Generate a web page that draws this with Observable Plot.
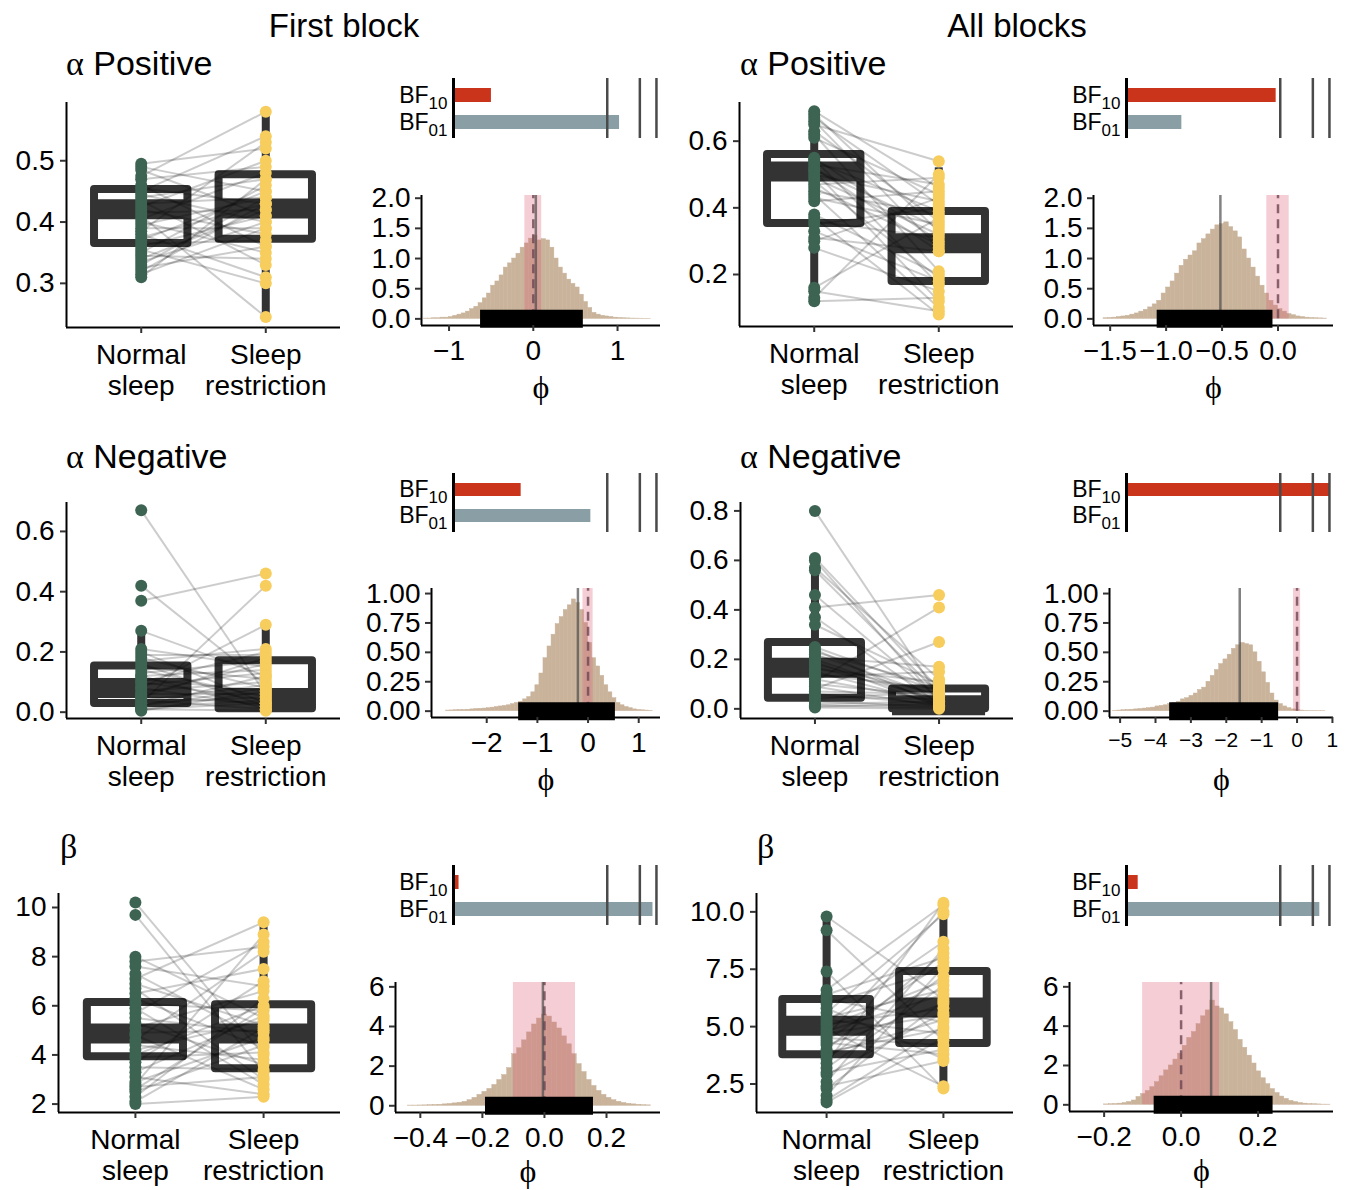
<!DOCTYPE html>
<html><head><meta charset="utf-8">
<script src="https://cdn.jsdelivr.net/npm/d3@7"></script>
<script src="https://cdn.jsdelivr.net/npm/@observablehq/plot@0.6"></script>
<style>
body{margin:0;background:#fff;}
#page{position:relative;width:1347px;height:1190px;overflow:hidden;background:#fff;}
#page svg{position:absolute;overflow:visible;}
</style></head><body><div id="page"></div>
<script>
// ---------------- DATA ----------------
const columnTitles = ["First block", "All blocks"];
const rowGreek = ["α", "α", "α", "α", "β", "β"];
const rowNames = ["Positive", "Positive", "Negative", "Negative", "", ""];
const groupTickLabels = ["Normal\nsleep", "Sleep\nrestriction"];
const bfNames = ["BF10", "BF01"];
const bfThresholds = [0.75, 0.909, 0.99];
const rope = [-0.1, 0.1];
const nullValue = 0;
const phiLabel = "ϕ";

// paired subject values (panel order: fbPos, abPos, fbNeg, abNeg, fbBeta, abBeta)
const fbPosNormal = [0.495,0.49,0.485,0.475,0.47,0.46,0.455,0.45,0.445,0.44,0.435,0.43,0.425,0.42,0.415,0.41,0.405,0.40,0.395,0.39,0.385,0.38,0.375,0.37,0.365,0.36,0.355,0.35,0.345,0.34,0.335,0.33,0.325,0.32,0.315,0.31];
const fbPosRestr  = [0.52,0.45,0.41,0.58,0.49,0.36,0.43,0.54,0.40,0.47,0.33,0.44,0.50,0.38,0.42,0.245,0.48,0.35,0.44,0.39,0.53,0.31,0.43,0.45,0.37,0.41,0.30,0.46,0.34,0.42,0.40,0.44,0.36,0.43,0.39,0.47];
const abPosNormal = [0.69,0.68,0.67,0.66,0.65,0.63,0.62,0.61,0.55,0.545,0.54,0.53,0.52,0.515,0.51,0.50,0.49,0.48,0.47,0.46,0.45,0.44,0.43,0.42,0.38,0.37,0.36,0.35,0.33,0.31,0.30,0.28,0.16,0.15,0.13,0.12];
const abPosRestr  = [0.46,0.33,0.41,0.28,0.54,0.36,0.21,0.44,0.30,0.17,0.39,0.47,0.27,0.34,0.12,0.42,0.32,0.19,0.49,0.29,0.38,0.10,0.35,0.45,0.20,0.08,0.31,0.40,0.18,0.27,0.43,0.15,0.37,0.09,0.50,0.13];
const fbNegNormal = [0.67,0.42,0.37,0.27,0.21,0.20,0.19,0.18,0.17,0.16,0.15,0.14,0.13,0.12,0.12,0.11,0.10,0.10,0.09,0.08,0.08,0.07,0.06,0.06,0.05,0.05,0.04,0.04,0.03,0.03,0.02,0.02,0.015,0.01,0.01,0.005];
const fbNegRestr  = [0.06,0.09,0.46,0.12,0.15,0.03,0.19,0.08,0.21,0.02,0.11,0.05,0.17,0.14,0.01,0.07,0.04,0.20,0.13,0.29,0.02,0.10,0.06,0.16,0.03,0.18,0.09,0.01,0.42,0.05,0.08,0.12,0.04,0.03,0.005,0.07];
const abNegNormal = [0.80,0.61,0.60,0.57,0.56,0.46,0.41,0.37,0.34,0.25,0.24,0.23,0.22,0.21,0.20,0.19,0.18,0.17,0.16,0.15,0.14,0.13,0.12,0.11,0.10,0.09,0.08,0.07,0.06,0.05,0.04,0.03,0.02,0.015,0.01,0.005];
const abNegRestr  = [0.05,0.08,0.03,0.12,0.06,0.04,0.46,0.02,0.10,0.07,0.015,0.09,0.05,0.17,0.03,0.01,0.06,0.04,0.11,0.02,0.08,0.15,0.03,0.41,0.05,0.01,0.27,0.06,0.02,0.04,0.07,0.01,0.03,0.005,0.02,0.0];
const fbBetaNormal = [10.2,9.7,8.0,7.8,7.6,7.3,7.1,6.9,6.7,6.5,6.3,6.1,5.9,5.7,5.5,5.3,5.1,4.9,4.8,4.6,4.4,4.2,4.0,3.9,3.7,3.5,3.3,3.1,2.9,2.8,2.7,2.6,2.5,2.3,2.1,2.0];
const fbBetaRestr  = [4.0,3.3,5.5,8.4,6.8,4.6,9.4,5.2,3.0,7.5,4.3,5.8,2.8,8.6,4.9,3.6,6.6,5.0,2.6,8.2,3.8,5.4,6.0,4.1,7.0,3.4,5.6,2.4,4.7,8.9,3.1,5.9,4.4,6.3,5.1,2.3];
const abBetaNormal = [9.8,9.2,7.4,6.6,6.4,6.2,6.0,5.8,5.6,5.4,5.3,5.2,5.1,5.0,4.9,4.8,4.7,4.6,4.5,4.4,4.3,4.2,4.0,3.9,3.8,3.6,3.4,3.2,3.0,2.9,2.6,2.4,2.3,2.0,1.8,1.7];
const abBetaRestr  = [6.2,4.4,2.3,10.3,8.0,5.2,7.5,3.6,9.9,6.6,4.7,8.7,5.8,7.0,2.4,6.4,5.5,10.0,4.2,7.8,3.8,6.0,8.2,4.9,5.3,7.2,10.4,6.8,4.0,5.6,8.4,3.5,6.1,7.6,5.0,4.5];

// box statistics [lower whisker, Q1, median, Q3, upper whisker]
const fbPosBoxNormal = [0.31, 0.365, 0.421, 0.453, 0.495];
const fbPosBoxRestr  = [0.245, 0.372, 0.422, 0.477, 0.58];
const abPosBoxNormal = [0.12, 0.353, 0.509, 0.56, 0.69];
const abPosBoxRestr  = [0.134, 0.179, 0.294, 0.389, 0.52];
const fbNegBoxNormal = [0.005, 0.029, 0.08, 0.153, 0.26];
const fbNegBoxRestr  = [0.0, 0.011, 0.047, 0.171, 0.29];
const abNegBoxNormal = [0.0, 0.043, 0.166, 0.268, 0.57];
const abNegBoxRestr  = [0.0, 0.0, 0.015, 0.08, 0.15];
const fbBetaBoxNormal = [2.0, 3.93, 4.87, 6.13, 8.0];
const fbBetaBoxRestr  = [2.3, 3.44, 4.87, 6.04, 9.4];
const abBetaBoxNormal = [1.7, 3.78, 5.04, 6.18, 9.8];
const abBetaBoxRestr  = [2.3, 4.27, 5.83, 7.40, 10.3];

// Bayes factor bars, as posterior-probability lengths
const bf10 = [0.185, 0.73, 0.33, 0.993, 0.027, 0.057];
const bf01 = [0.81, 0.27, 0.67, 0.004, 0.973, 0.943];

// posterior histograms of phi (density per bin)
const fbPosHist = [0.005,0.005,0.01,0.01,0.02,0.02,0.03,0.05,0.07,0.09,0.12,0.16,0.2,0.26,0.34,0.42,0.55,0.62,0.72,0.85,0.92,1.0,1.08,1.18,1.25,1.33,1.38,1.3,1.32,1.3,1.18,1.0,0.85,0.75,0.65,0.58,0.52,0.4,0.28,0.18,0.1,0.07,0.05,0.04,0.03,0.02,0.015,0.01,0.008,0.005,0.004,0.003,0.002,0.002];
const abPosHist = [0.01,0.015,0.02,0.03,0.04,0.05,0.07,0.09,0.12,0.15,0.19,0.24,0.3,0.42,0.52,0.62,0.75,0.88,0.98,1.05,1.12,1.25,1.32,1.4,1.48,1.55,1.57,1.6,1.52,1.45,1.35,1.15,1.0,0.85,0.7,0.55,0.42,0.3,0.22,0.16,0.12,0.08,0.06,0.04,0.03,0.02,0.015,0.01,0.008,0.005];
const fbNegHist = [0.005,0.006,0.008,0.01,0.01,0.012,0.015,0.018,0.02,0.022,0.025,0.03,0.035,0.04,0.045,0.05,0.06,0.07,0.08,0.1,0.12,0.16,0.22,0.32,0.45,0.55,0.65,0.74,0.8,0.86,0.9,0.95,0.92,0.86,0.75,0.58,0.45,0.38,0.3,0.22,0.16,0.11,0.07,0.05,0.035,0.025,0.015,0.01,0.007,0.005,0.003];
const abNegHist = [0.003,0.005,0.008,0.01,0.012,0.015,0.018,0.022,0.025,0.03,0.04,0.045,0.05,0.06,0.07,0.08,0.1,0.11,0.13,0.15,0.18,0.2,0.25,0.3,0.35,0.4,0.44,0.48,0.53,0.56,0.58,0.57,0.56,0.5,0.42,0.33,0.24,0.15,0.09,0.06,0.04,0.025,0.015,0.008,0.005,0.003,0.002,0.002,0.001,0.001];
const fbBetaHist = [0.01,0.01,0.015,0.02,0.03,0.04,0.05,0.07,0.09,0.12,0.15,0.2,0.28,0.4,0.55,0.7,0.85,1.05,1.3,1.55,1.9,2.6,2.9,3.3,3.7,4.1,4.4,4.6,4.5,4.2,3.9,3.5,3.1,2.6,2.1,1.7,1.3,1.0,0.75,0.55,0.4,0.28,0.2,0.14,0.1,0.07,0.05,0.03,0.02];
const abBetaHist = [0.02,0.03,0.04,0.06,0.09,0.14,0.22,0.4,0.55,0.7,0.9,1.15,1.45,1.75,2.0,2.3,2.6,3.0,3.4,3.7,4.1,4.5,4.8,5.3,5.0,4.9,4.6,4.2,3.8,3.3,2.9,2.5,2.1,1.7,1.35,1.05,0.8,0.6,0.42,0.3,0.2,0.14,0.09,0.06,0.04,0.03,0.02,0.01,0.008];
const histStarts = [-1.3, -1.56, -2.8, -5.2, -0.44, -0.2];
const histSteps = [0.05, 0.04, 0.08, 0.12, 0.016, 0.012];
const hdiIntervals = [[-0.626, 0.594], [-1.08, -0.045], [-1.37, 0.54], [-3.6, -0.52], [-0.19, 0.158], [-0.07, 0.239]];
const posteriorMeans = [0.03, -0.515, -0.2, -1.62, -0.005, 0.078];

// axis ticks
const boxYTicks = [[0.3,0.4,0.5],[0.2,0.4,0.6],[0,0.2,0.4,0.6],[0,0.2,0.4,0.6,0.8],[2,4,6,8,10],[2.5,5,7.5,10]];
const boxYFormats = [".1f",".1f",".1f",".1f","d",".1f"];
const histXTicks = [[-1,0,1],[-1.5,-1,-0.5,0],[-2,-1,0,1],[-5,-4,-3,-2,-1,0,1],[-0.4,-0.2,0,0.2],[-0.2,0,0.2]];
const histXFormats = ["d",".1f","d","d",".1f",".1f"];
const histYTicks = [[0,0.5,1,1.5,2],[0,0.5,1,1.5,2],[0,0.25,0.5,0.75,1],[0,0.25,0.5,0.75,1],[0,2,4,6],[0,2,4,6]];
const histYFormats = [".1f",".1f",".2f",".2f","d","d"];

// ---------------- LAYOUT ----------------
const SANS = "'Liberation Sans', Arial, Helvetica, sans-serif";
const SERIF = "'Liberation Serif', 'DejaVu Serif', serif";
const colNormal = "#3d6452", colRestr = "#f7cd5e", BOX_COL = "#333333";
const HIST_COL = "#c9b39b", ROPE_COL = "#dc5a74", BF10_COL = "#c9341a", BF01_COL = "#8a9ea5";
const BOX_HALF = 0.375;
const DOT_R = 6;
const boxXDomain = [0.4, 2.6];

const boxFrames = [{l:66,r:340,t:102,b:327},{l:739,r:1013,t:102,b:326},{l:66,r:340,t:502,b:718},{l:740,r:1013,t:502,b:718},{l:58,r:340,t:893,b:1112},{l:756,r:1013,t:893,b:1112}];
const boxYDomains = [[0.228,0.595],[0.044,0.716],[-0.021,0.696],[-0.039,0.834],[1.657,10.57],[1.259,10.80]];
const histFrames = [{l:421,r:660,t:195,b:325},{l:1093,r:1333,t:195,b:325},{l:431,r:660,t:588,b:717},{l:1109,r:1333,t:588,b:717},{l:395,r:660,t:982,b:1112},{l:1069,r:1333,t:982,b:1111}];
const histXDomains = [[-1.327,1.51],[-1.649,0.496],[-3.09,1.43],[-5.3,1.03],[-0.48,0.374],[-0.29,0.396]];
const histYDomains = [[-0.11,2.045],[-0.11,2.045],[-0.054,1.043],[-0.054,1.043],[-0.34,6.22],[-0.34,6.22]];
const histXFont = [28,27,28,21,28,28];
const phiOffset = [72,72,72,72,69,69];
const bfFrames = [{l:452.7,r:657.7,t:78,b:138},{l:1125.7,r:1330.7,t:78,b:138},{l:452.7,r:657.7,t:473,b:532},{l:1125.7,r:1330.7,t:473,b:532},{l:452.7,r:657.7,t:865,b:925},{l:1125.7,r:1330.7,t:865,b:926}];
const rowTitlePos = [[66,75],[740,75],[66,468],[740,468],[60,858],[757,858]];
const colTitlePos = [[344,37],[1017,37]];

const baseStyle = {fontFamily: SANS, fontSize: "28px", color: "black", background: "transparent", overflow: "visible"};
const page = document.getElementById("page");
function put(svg, left, top) {
  svg.style.position = "absolute";
  svg.style.left = left + "px";
  svg.style.top = top + "px";
  page.appendChild(svg);
}

function boxPanel(f, yDomain, yTicks, yFmt, normal, restr, boxN, boxR) {
  const m = {l: 70, r: 10, t: 12, b: 85};
  const boxes = [boxN, boxR].map((s, i) => ({x: i + 1, lo: s[0], q1: s[1], med: s[2], q3: s[3], hi: s[4]}));
  const pairs = normal.map((v, i) => ({n: v, s: restr[i]}));
  const svg = Plot.plot({
    width: f.r - f.l + m.l + m.r, height: f.b - f.t + m.t + m.b,
    marginLeft: m.l, marginRight: m.r, marginTop: m.t, marginBottom: m.b,
    style: baseStyle,
    x: {type: "linear", domain: boxXDomain, axis: null},
    y: {type: "linear", domain: yDomain, axis: null},
    marks: [
      Plot.ruleX(boxes, {x: "x", y1: "lo", y2: "q1", stroke: BOX_COL, strokeWidth: 8}),
      Plot.ruleX(boxes, {x: "x", y1: "q3", y2: "hi", stroke: BOX_COL, strokeWidth: 8}),
      Plot.rect(boxes, {x1: d => d.x - BOX_HALF, x2: d => d.x + BOX_HALF, y1: "q1", y2: "q3", fill: "none", stroke: BOX_COL, strokeWidth: 8, strokeLinejoin: "round"}),
      Plot.ruleY(boxes, {y: "med", x1: d => d.x - BOX_HALF, x2: d => d.x + BOX_HALF, stroke: BOX_COL, strokeWidth: 20}),
      Plot.link(pairs, {x1: () => 1, x2: () => 2, y1: "n", y2: "s", stroke: "black", strokeOpacity: 0.2, strokeWidth: 2}),
      Plot.dot(normal, {x: () => 1, y: d => d, r: DOT_R, fill: colNormal}),
      Plot.dot(restr, {x: () => 2, y: d => d, r: DOT_R, fill: colRestr}),
      Plot.ruleX([boxXDomain[0]], {stroke: "black", strokeWidth: 2}),
      Plot.ruleY([yDomain[0]], {stroke: "black", strokeWidth: 2}),
      Plot.axisY({ticks: yTicks, tickFormat: d3.format(yFmt), tickSize: 6, tickPadding: 6, fontSize: 28, stroke: "#333", strokeWidth: 2, label: null}),
      Plot.axisX({ticks: [1, 2], tickFormat: i => groupTickLabels[i - 1], tickSize: 6, tickPadding: 9, fontSize: 28, lineHeight: 1.1, stroke: "#333", strokeWidth: 2, label: null})
    ]
  });
  put(svg, f.l - m.l, f.t - m.t);
}

function histPanel(f, xDomain, yDomain, xTicks, xFmt, yTicks, yFmt, heights, start, step, hdi, mean, xFont, phiDy) {
  const m = {l: 75, r: 10, t: 12, b: 100};
  const bins = heights.map((h, i) => ({x1: start + i * step, x2: start + (i + 1) * step, h}));
  const yTop = yDomain[1];
  const svg = Plot.plot({
    width: f.r - f.l + m.l + m.r, height: f.b - f.t + m.t + m.b,
    marginLeft: m.l, marginRight: m.r, marginTop: m.t, marginBottom: m.b,
    style: baseStyle,
    x: {type: "linear", domain: xDomain, axis: null},
    y: {type: "linear", domain: yDomain, axis: null},
    marks: [
      Plot.rect(bins, {x1: "x1", x2: "x2", y1: () => 0, y2: "h", fill: HIST_COL, stroke: HIST_COL, strokeWidth: 0.5}),
      Plot.rect([rope], {x1: d => d[0], x2: d => d[1], y1: () => 0, y2: () => yTop, fill: ROPE_COL, fillOpacity: 0.3}),
      Plot.ruleX([nullValue], {x: d => d, y1: () => 0, y2: () => yTop, stroke: "#6d4652", strokeOpacity: 0.8, strokeWidth: 2.5, strokeDasharray: "9,6"}),
      Plot.ruleX([mean], {x: d => d, y1: () => 0, y2: () => yTop, stroke: "#4d4d4d", strokeOpacity: 0.7, strokeWidth: 2.5}),
      Plot.ruleX([xDomain[0]], {stroke: "black", strokeWidth: 2}),
      Plot.ruleY([yDomain[0]], {stroke: "black", strokeWidth: 2}),
      Plot.ruleY([hdi], {y: () => 0, x1: d => d[0], x2: d => d[1], stroke: "black", strokeWidth: 18}),
      Plot.axisY({ticks: yTicks, tickFormat: d3.format(yFmt), tickSize: 6, tickPadding: 5, fontSize: 28, stroke: "#333", strokeWidth: 2, label: null}),
      Plot.axisX({ticks: xTicks, tickFormat: d3.format(xFmt), tickSize: 6, tickPadding: 9, fontSize: xFont, stroke: "#333", strokeWidth: 2, label: null}),
      Plot.text([phiLabel], {text: d => d, frameAnchor: "bottom", dy: phiDy, fontSize: 32, fontFamily: SERIF})
    ]
  });
  put(svg, f.l - m.l, f.t - m.t);
}

function bfPanel(f, p10, p01) {
  const m = {l: 70, r: 10, t: 4, b: 4};
  const svg = Plot.plot({
    width: f.r - f.l + m.l + m.r, height: f.b - f.t + m.t + m.b,
    marginLeft: m.l, marginRight: m.r, marginTop: m.t, marginBottom: m.b,
    style: baseStyle,
    x: {type: "linear", domain: [0, 1], axis: null},
    y: {type: "band", domain: bfNames, paddingInner: 0.5, paddingOuter: 0.35, axis: null},
    marks: [
      Plot.barX([{name: bfNames[0], p: p10}], {x: "p", y: "name", fill: BF10_COL}),
      Plot.barX([{name: bfNames[1], p: p01}], {x: "p", y: "name", fill: BF01_COL}),
      Plot.ruleX(bfThresholds, {stroke: "#4a4a4a", strokeWidth: 2.5}),
      Plot.ruleX([0], {stroke: "black", strokeWidth: 3}),
      Plot.axisY({tickSize: 0, tickPadding: 6, fontSize: 23, label: null})
    ]
  });
  d3.select(svg).selectAll("text").each(function () {
    const t = d3.select(this), s = t.text();
    if (!s.startsWith("BF")) return;
    t.text(null);
    t.append("tspan").text(s.slice(0, 2));
    t.append("tspan").attr("font-size", 17).attr("dy", "0.35em").text(s.slice(2));
  });
  put(svg, f.l - m.l, f.t - m.t);
}

const normals = [fbPosNormal, abPosNormal, fbNegNormal, abNegNormal, fbBetaNormal, abBetaNormal];
const restrs = [fbPosRestr, abPosRestr, fbNegRestr, abNegRestr, fbBetaRestr, abBetaRestr];
const boxNs = [fbPosBoxNormal, abPosBoxNormal, fbNegBoxNormal, abNegBoxNormal, fbBetaBoxNormal, abBetaBoxNormal];
const boxRs = [fbPosBoxRestr, abPosBoxRestr, fbNegBoxRestr, abNegBoxRestr, fbBetaBoxRestr, abBetaBoxRestr];
const hists = [fbPosHist, abPosHist, fbNegHist, abNegHist, fbBetaHist, abBetaHist];

for (let k = 0; k < 6; k++) {
  boxPanel(boxFrames[k], boxYDomains[k], boxYTicks[k], boxYFormats[k], normals[k], restrs[k], boxNs[k], boxRs[k]);
  histPanel(histFrames[k], histXDomains[k], histYDomains[k], histXTicks[k], histXFormats[k], histYTicks[k], histYFormats[k], hists[k], histStarts[k], histSteps[k], hdiIntervals[k], posteriorMeans[k], histXFont[k], phiOffset[k]);
  bfPanel(bfFrames[k], bf10[k], bf01[k]);
}

// titles
const ov = d3.create("svg").attr("width", 1347).attr("height", 1190)
  .style("position", "absolute").style("left", "0px").style("top", "0px").style("pointer-events", "none");
columnTitles.forEach((s, i) => {
  ov.append("text").attr("x", colTitlePos[i][0]).attr("y", colTitlePos[i][1]).attr("text-anchor", "middle")
    .attr("font-family", SANS).attr("font-size", 33).text(s);
});
rowGreek.forEach((g, i) => {
  const t = ov.append("text").attr("x", rowTitlePos[i][0]).attr("y", rowTitlePos[i][1])
    .attr("font-family", SANS).attr("font-size", 34);
  t.append("tspan").attr("font-family", SERIF).text(g);
  if (rowNames[i]) t.append("tspan").text("\u00A0" + rowNames[i]);
});
page.appendChild(ov.node());
</script></body></html>
